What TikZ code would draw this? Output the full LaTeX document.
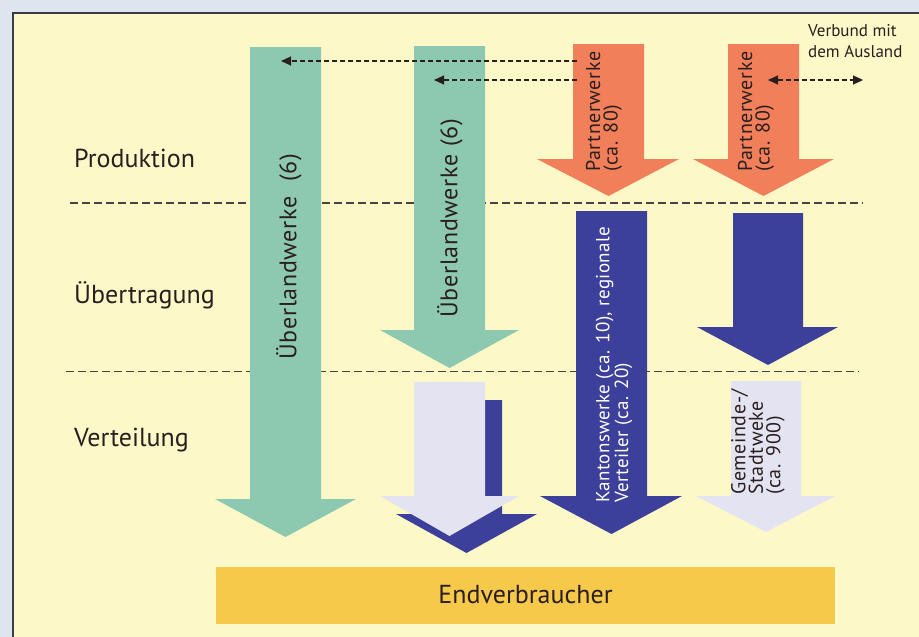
\documentclass[tikz,border=0pt]{standalone}
\usepackage{fontspec}
\setmainfont{PT Sans}
\usetikzlibrary{arrows.meta}
\definecolor{outer}{HTML}{DFE5EE}
\definecolor{panel}{HTML}{FDF8C8}
\definecolor{frame}{HTML}{3A3A48}
\definecolor{ink}{HTML}{2A1E1E}
\definecolor{werkgreen}{HTML}{8DC9B0}
\definecolor{werkorange}{HTML}{F07F5A}
\definecolor{werkblue}{HTML}{3C409A}
\definecolor{werklilac}{HTML}{E4E3F2}
\definecolor{endgold}{HTML}{F6C94A}

\begin{document}
\begin{tikzpicture}[x=1pt,y=-1pt]
\tikzstyle{rowlabel}=[anchor=base west,inner sep=0pt,text=ink,font=\fontsize{26}{30}\selectfont]
\tikzstyle{inarrow}=[anchor=west,rotate=90,inner sep=0pt,align=left,text=ink,font=\addfontfeature{LetterSpace=3}\fontsize{20}{17.5}\selectfont]
\tikzstyle{level}=[draw=ink!85,line width=1.1pt,dash pattern=on 8pt off 4pt]
\tikzstyle{link}=[draw=ink,line width=1.1pt,dash pattern=on 5pt off 3pt,-{Triangle[length=10pt,width=9pt]}]
\useasboundingbox (0,0) rectangle (919,637);
\fill[outer] (0,0) rectangle (919,637);
\fill[panel] (13,13) rectangle (919,637);
\draw[frame,line width=1.5pt] (919,13) -- (13,13) -- (13,637);
\draw[level] (70,203) -- (863,203);
\draw[level] (66,371.5) -- (859,371.5);
\fill[werkgreen] (250,47) -- (321,47) -- (321,499) -- (356,499) -- (285.5,537) -- (215,499) -- (250,499) -- cycle;
\fill[werkgreen] (414,46) -- (485,46) -- (485,330) -- (519,330) -- (449.5,368) -- (380,330) -- (414,330) -- cycle;
\fill[werkorange] (573,44) -- (644,44) -- (644,159) -- (679,159) -- (608.5,196) -- (537,159) -- (573,159) -- cycle;
\fill[werkorange] (728,44) -- (799,44) -- (799,159) -- (834,159) -- (763.5,196) -- (693,159) -- (728,159) -- cycle;
\fill[werkblue] (576,211) -- (647,211) -- (647,496) -- (682,496) -- (611.5,534) -- (540,496) -- (576,496) -- cycle;
\fill[werkblue] (733,213) -- (803,213) -- (803,327) -- (838,327) -- (768,365) -- (697,327) -- (733,327) -- cycle;
\fill[werkblue] (431,400) -- (502,400) -- (502,514) -- (537,514) -- (466.5,553) -- (396,514) -- (431,514) -- cycle;
\fill[werklilac] (414,382) -- (485,382) -- (485,496) -- (519,496) -- (449.5,536) -- (380,496) -- (414,496) -- cycle;
\fill[werklilac] (731,381) -- (801,381) -- (801,496) -- (835,496) -- (766,532) -- (696,496) -- (731,496) -- cycle;
\fill[endgold] (216,567) rectangle (835,624);
\node [rowlabel] (prod) at (74,167) {Produktion};
\node [rowlabel] (uebertr) at (74,303) {Übertragung};
\node [rowlabel] (verteil) at (74,446) {Verteilung};
\node [inarrow,font=\addfontfeature{LetterSpace=3}\fontsize{24}{26}\selectfont] (ueber1) at (289,360) {Überlandwerke\ \ (6)};
\node [inarrow,font=\addfontfeature{LetterSpace=3}\fontsize{24}{26}\selectfont] (ueber2) at (450,318) {Überlandwerke\ (6)};
\node [inarrow] (partner1) at (604,172) {Partnerwerke\\(ca. 80)};
\node [inarrow] (partner2) at (756,172) {Partnerwerke\\(ca. 80)};
\node [inarrow,text=white,font=\addfontfeature{LetterSpace=2}\fontsize{19}{17.5}\selectfont] (kanton) at (614,503) {Kantonswerke (ca. 10), regionale\\Verteiler (ca. 20)};
\node [inarrow] (gemeinde) at (758,495) {Gemeinde-/\\Stadtweke\\(ca. 900)};
\node [anchor=north west,inner sep=0pt,align=left,text=ink,font=\fontsize{17}{21.5}\selectfont] (verbund) at (808,24) {Verbund mit\\dem Ausland};
\node [anchor=base,inner sep=0pt,text=ink,font=\fontsize{26}{30}\selectfont] (endv) at (525.5,603) {Endverbraucher};
\coordinate (p1a) at (577,61);
\coordinate (g1) at (281,61);
\coordinate (p1b) at (577,80);
\coordinate (g2) at (434,80);
\coordinate (p2) at (768,80);
\coordinate (abroad) at (863,80);
\draw[link] (p1a) -- (g1);
\draw[link] (p1b) -- (g2);
\draw[link,{Triangle[length=10pt,width=9pt]}-{Triangle[length=10pt,width=9pt]}] (p2) -- (abroad);
\end{tikzpicture}
\end{document}
